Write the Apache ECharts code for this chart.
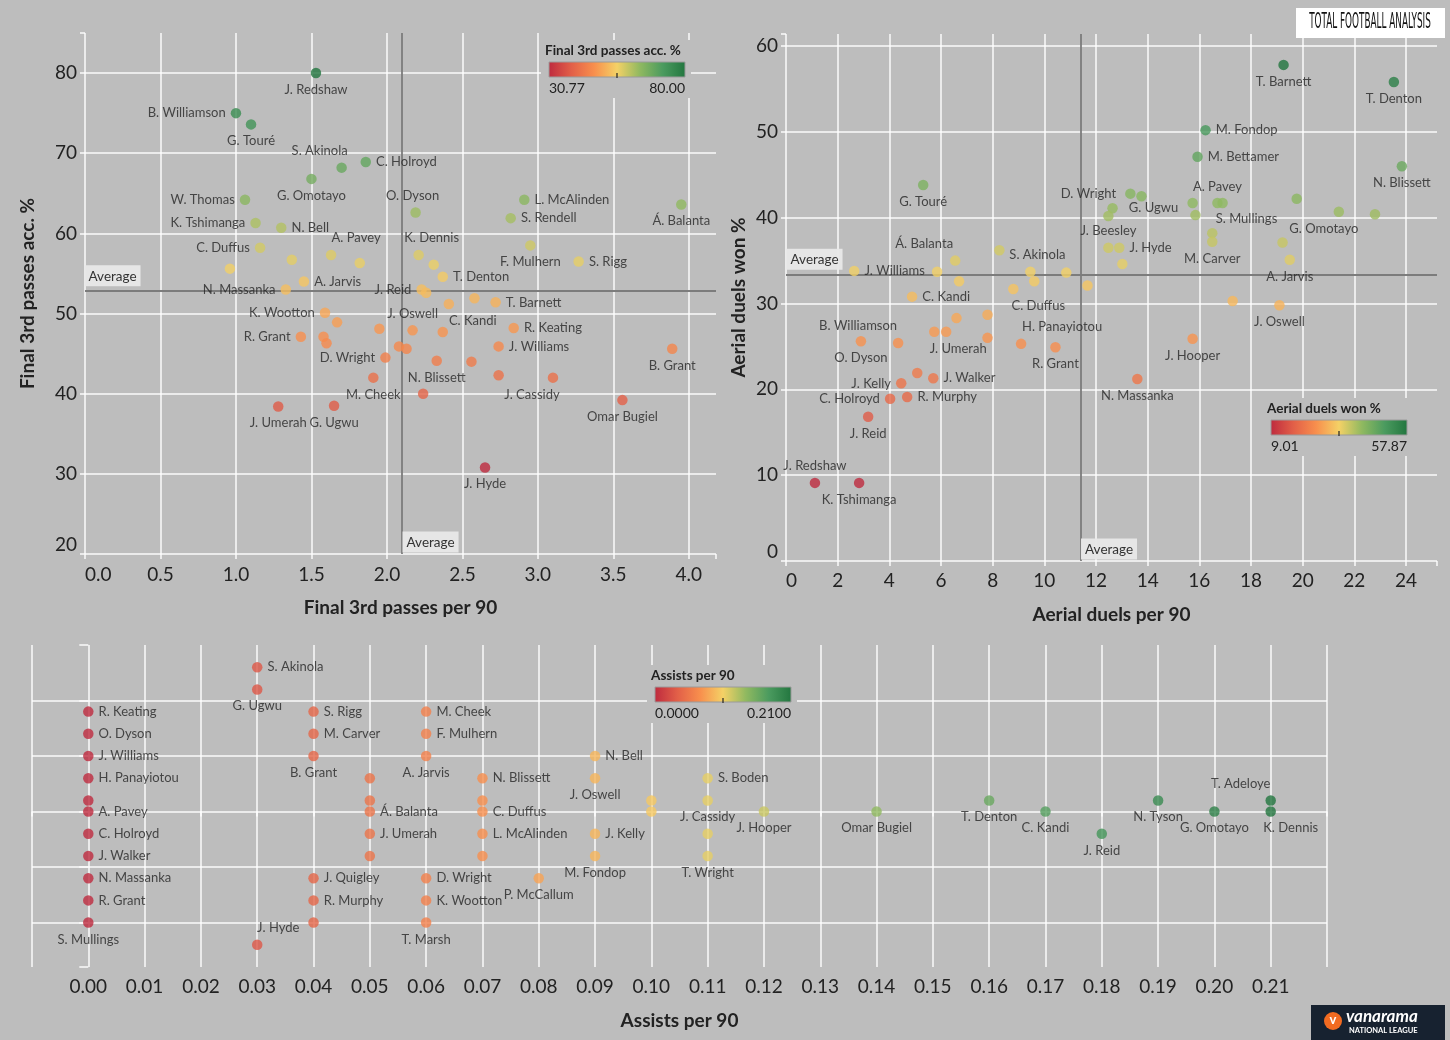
<!DOCTYPE html>
<html><head><meta charset="utf-8">
<script src="https://cdn.jsdelivr.net/npm/echarts@6/dist/echarts.min.js"></script>
<style>html,body{margin:0;padding:0;background:#bdbdbd;}#c{width:1450px;height:1040px;}</style>
</head><body><div id="c"></div>
<script>
// ================= DATA =================
// Chart 1: Final 3rd passes per 90 vs Final 3rd passes accuracy %
const c1Names = ['J. Redshaw','B. Williamson','G. Touré','S. Akinola','C. Holroyd','G. Omotayo','W. Thomas','O. Dyson','L. McAlinden','S. Rendell',
 'Á. Balanta','K. Tshimanga','N. Bell','C. Duffus','A. Pavey','','','','A. Jarvis','N. Massanka',
 'K. Wootton','','R. Grant','','','','J. Oswell','D. Wright','','',
 'M. Cheek','N. Blissett','J. Umerah','G. Ugwu','J. Reid','','T. Denton','K. Dennis','','F. Mulhern',
 'S. Rigg','T. Barnett','C. Kandi','','','R. Keating','J. Williams','','','J. Cassidy',
 '','B. Grant','Omar Bugiel','J. Hyde'];
const c1Passes = [1.53,1.00,1.10,1.70,1.86,1.50,1.06,2.19,2.91,2.82,
 3.95,1.13,1.30,1.16,1.63,1.82,1.37,0.96,1.45,1.33,
 1.59,1.67,1.43,1.58,1.60,1.95,2.17,1.99,2.08,2.13,
 1.91,2.33,1.28,1.65,2.23,2.26,2.37,2.21,2.31,2.95,
 3.27,2.72,2.41,2.58,2.37,2.84,2.74,2.56,2.74,3.10,
 2.24,3.89,3.56,2.65];
const c1Accuracy = [80.0,75.0,73.6,68.2,68.9,66.8,64.2,62.6,64.2,61.9,
 63.6,61.3,60.7,58.2,57.3,56.3,56.7,55.6,54.0,53.0,
 50.1,48.9,47.1,47.1,46.3,48.1,47.9,44.5,45.9,45.6,
 42.0,44.1,38.4,38.5,53.0,52.6,54.6,57.3,56.1,58.5,
 56.5,51.4,51.2,51.9,47.7,48.2,45.9,44.0,42.3,42.0,
 40.0,45.6,39.2,30.8];
const c1AvgX = 2.10, c1AvgY = 52.85;
const c1XRange = [0, 4.18], c1YRange = [20, 85];
const c1XTicks = ['0.0','0.5','1.0','1.5','2.0','2.5','3.0','3.5','4.0'];
const c1YTicks = ['20','30','40','50','60','70','80'];
const c1ColorRange = [30.77, 80.00];

// Chart 2: Aerial duels per 90 vs Aerial duels won %
const c2Names = ['T. Barnett','T. Denton','M. Fondop','M. Bettamer','N. Blissett','G. Touré','D. Wright','','G. Ugwu','',
 '','S. Mullings','A. Pavey','','','G. Omotayo','','','M. Carver','J. Beesley',
 'J. Hyde','','','A. Jarvis','Á. Balanta','','J. Williams','','','S. Akinola',
 '','','','C. Duffus','C. Kandi','','J. Oswell','','','O. Dyson',
 'B. Williamson','','J. Umerah','','H. Panayiotou','R. Grant','J. Hooper','N. Massanka','J. Kelly','',
 'J. Walker','C. Holroyd','R. Murphy','J. Reid','J. Redshaw','K. Tshimanga'];
const c2Duels = [19.26,23.53,16.24,15.93,23.84,5.31,13.33,13.76,12.64,12.48,
 15.74,15.85,16.70,16.90,19.77,21.40,22.80,16.50,16.50,12.48,
 12.90,13.02,19.22,19.50,6.55,8.26,2.64,5.85,6.70,9.46,
 9.61,10.85,11.67,8.80,4.88,17.29,19.10,6.60,7.80,2.90,
 4.34,5.74,6.20,7.80,9.10,10.43,15.74,13.60,4.46,5.08,
 5.70,4.03,4.69,3.18,1.12,2.83];
const c2WonPct = [57.8,55.8,50.2,47.1,46.0,43.8,42.8,42.5,41.1,40.2,
 41.7,40.3,41.7,41.7,42.2,40.7,40.4,38.2,37.2,36.5,
 36.5,34.6,37.1,35.1,35.0,36.2,33.8,33.7,32.6,33.7,
 32.6,33.6,32.1,31.7,30.8,30.3,29.8,28.3,28.7,25.6,
 25.4,26.7,26.7,26.0,25.3,24.9,25.9,21.2,20.7,21.9,
 21.3,18.9,19.1,16.8,9.1,9.1];
const c2AvgX = 11.4, c2AvgY = 33.3;
const c2XRange = [0, 25.2], c2YRange = [0, 61.4];
const c2XTicks = ['0','2','4','6','8','10','12','14','16','18','20','22','24'];
const c2YTicks = ['0','10','20','30','40','50','60'];
const c2ColorRange = [9.01, 57.87];

// Chart 3: Assists per 90 (with vertical jitter)
const c3Names = ['R. Keating','O. Dyson','J. Williams','H. Panayiotou','','A. Pavey','C. Holroyd','J. Walker','N. Massanka','R. Grant','S. Mullings',
 'S. Akinola','G. Ugwu','J. Hyde',
 'S. Rigg','M. Carver','B. Grant','J. Quigley','R. Murphy','',
 '','','Á. Balanta','J. Umerah','',
 'M. Cheek','F. Mulhern','A. Jarvis','D. Wright','K. Wootton','T. Marsh',
 'N. Blissett','','C. Duffus','L. McAlinden','',
 'P. McCallum',
 'N. Bell','J. Oswell','J. Kelly','M. Fondop',
 '','',
 'S. Boden','J. Cassidy','','T. Wright',
 'J. Hooper','Omar Bugiel','T. Denton','C. Kandi','J. Reid','N. Tyson','G. Omotayo','T. Adeloye','K. Dennis'];
const c3Assists = [0,0,0,0,0,0,0,0,0,0,0,
 0.03,0.03,0.03,
 0.04,0.04,0.04,0.04,0.04,0.04,
 0.05,0.05,0.05,0.05,0.05,
 0.06,0.06,0.06,0.06,0.06,0.06,
 0.07,0.07,0.07,0.07,0.07,
 0.08,
 0.09,0.09,0.09,0.09,
 0.10,0.10,
 0.11,0.11,0.11,0.11,
 0.12,0.14,0.16,0.17,0.18,0.19,0.20,0.21,0.21];
const c3Jitter = [1.8,1.4,1.0,0.6,0.2,0,-0.4,-0.8,-1.2,-1.6,-2.0,
 2.6,2.2,-2.4,
 1.8,1.4,1.0,-1.2,-1.6,-2.0,
 0.6,0.2,0,-0.4,-0.8,
 1.8,1.4,1.0,-1.2,-1.6,-2.0,
 0.6,0.2,0,-0.4,-0.8,
 -1.2,
 1.0,0.6,-0.4,-0.8,
 0.2,0,
 0.6,0.2,-0.4,-0.8,
 0,0,0.2,0,-0.4,0.2,0,0.2,0];
const c3XRange = [-0.01, 0.22], c3YRange = [-2.8, 3];
const c3XTicks = ['0.00','0.01','0.02','0.03','0.04','0.05','0.06','0.07','0.08','0.09','0.10','0.11','0.12','0.13','0.14','0.15','0.16','0.17','0.18','0.19','0.20','0.21'];
const c3ColorRange = [0, 0.21];

// ================= STYLE CONFIG =================
const FONT = 'Lato, "Noto Sans", sans-serif';
const BG = '#bdbdbd';
const palette = ['#be2a3e','#e25f48','#f88f4d','#f4d166','#90b960','#4b9b5f','#22763f'];
const GRID_COLOR = 'rgba(255,255,255,0.92)';

// label placement: [position, dx, dy]
const c1Place = {'J. Redshaw':['bottom'],'B. Williamson':['left'],'G. Touré':['bottom'],'S. Akinola':['top',-22,0],'C. Holroyd':['right'],
 'G. Omotayo':['bottom'],'W. Thomas':['left'],'O. Dyson':['top',-3,0],'L. McAlinden':['right'],'S. Rendell':['right'],'Á. Balanta':['bottom'],
 'K. Tshimanga':['left'],'N. Bell':['right'],'C. Duffus':['left'],'A. Pavey':['top',25,0],'A. Jarvis':['right'],'N. Massanka':['left'],
 'K. Wootton':['left'],'R. Grant':['left'],'J. Oswell':['top'],'D. Wright':['left'],'M. Cheek':['bottom'],'N. Blissett':['bottom'],
 'J. Umerah':['bottom'],'G. Ugwu':['bottom'],'J. Reid':['left'],'T. Denton':['right'],'K. Dennis':['top',13,0],'F. Mulhern':['bottom'],
 'S. Rigg':['right'],'T. Barnett':['right'],'C. Kandi':['bottom',24,0],'R. Keating':['right'],'J. Williams':['right'],
 'J. Cassidy':['bottom',-21,0],'B. Grant':['bottom'],'Omar Bugiel':['bottom'],'J. Hyde':['bottom']};
const c2Place = {'T. Barnett':['bottom'],'T. Denton':['bottom'],'M. Fondop':['right'],'M. Bettamer':['right'],'N. Blissett':['bottom'],
 'G. Touré':['bottom'],'D. Wright':['left',-4,0],'G. Ugwu':['right',6,0],'S. Mullings':['right',10,4],'A. Pavey':['top'],
 'G. Omotayo':['bottom',-15,0],'M. Carver':['bottom'],'J. Beesley':['top'],'J. Hyde':['right'],'A. Jarvis':['bottom'],
 'Á. Balanta':['top',-31,0],'J. Williams':['right'],'S. Akinola':['top',7,0],'C. Duffus':['bottom',25,0],'C. Kandi':['right'],
 'J. Oswell':['bottom'],'O. Dyson':['bottom'],'B. Williamson':['top',-40,0],'J. Umerah':['bottom',12,0],'H. Panayiotou':['top',41,0],
 'R. Grant':['bottom'],'J. Hooper':['bottom'],'N. Massanka':['bottom'],'J. Kelly':['left'],'J. Walker':['right'],'C. Holroyd':['left'],
 'R. Murphy':['right'],'J. Reid':['bottom'],'J. Redshaw':['top'],'K. Tshimanga':['bottom']};
const c3BottomNames = ['S. Mullings','G. Ugwu','B. Grant','A. Jarvis','T. Marsh','P. McCallum','J. Oswell','M. Fondop','J. Cassidy',
 'T. Wright','J. Hooper','Omar Bugiel','T. Denton','C. Kandi','J. Reid','N. Tyson','G. Omotayo'];
const c3Place = {'J. Hyde':['top',21,0],'T. Adeloye':['top',-30,0],'K. Dennis':['bottom',20,0]};
c3BottomNames.forEach(n => { c3Place[n] = ['bottom']; });

function makeItems(names, xs, ys, place, defPos) {
  return names.map((n, i) => {
    const item = { name: n, value: [xs[i], ys[i]] };
    const p = place[n] || (n && defPos ? [defPos] : null);
    if (n && p) item.label = { show: true, position: p[0], offset: [p[1] || 0, p[2] || 0] };
    return item;
  });
}

function tickFmt(list, digits) {
  return v => { const s = (Math.abs(v) < 1e-9 ? 0 : v).toFixed(digits); return list.includes(s) ? s : ''; };
}

function axis(extra) {
  const base = {
    nameLocation: 'middle',
    nameTextStyle: { fontSize: 19, fontWeight: 'bold', color: '#222', fontFamily: FONT },
    axisLine: { show: false },
    axisTick: { show: true, length: 5, lineStyle: { color: GRID_COLOR, width: 1.5 } },
    splitLine: { show: true, showMinLine: true, showMaxLine: false, lineStyle: { color: GRID_COLOR, width: 1.5 } },
    axisLabel: { fontSize: 19, color: '#222', fontFamily: FONT }
  };
  const out = Object.assign({}, base, extra);
  if (extra.axisLabel) out.axisLabel = Object.assign({}, base.axisLabel, extra.axisLabel);
  if (extra.splitLine) out.splitLine = Object.assign({}, base.splitLine, extra.splitLine);
  return out;
}

const avgLine = (ax, ay) => ({
  symbol: 'none', silent: true, z: 1, animation: false,
  lineStyle: { color: '#7c7c7c', width: 1.8, type: 'solid' },
  label: { show: false },
  data: [{ xAxis: ax }, { yAxis: ay }]
});
const avgLabels = (pts) => ({
  symbol: 'circle', symbolSize: 1, silent: true, animation: false,
  itemStyle: { color: 'rgba(0,0,0,0)' },
  label: { show: true, formatter: 'Average', color: '#333', fontSize: 13.5, fontFamily: FONT,
           backgroundColor: 'rgba(232,232,232,0.95)', padding: [4, 4, 3, 4] },
  data: pts
});

const seriesLabel = { show: false, formatter: '{b}', fontSize: 13, color: '#262626', fontFamily: FONT, distance: 5 };

// ================= LEGENDS / LOGOS (graphic) =================
function legend(x, y, title, lo, hi) {
  const w = 136, h = 15;
  return [
    { type: 'rect', z: 100, shape: { x: x - 8, y: y - 22, width: w + 14, height: 58 }, style: { fill: BG } },
    { type: 'text', z: 101, x: x - 4, y: y - 11, style: { text: title, font: 'bold 13.5px ' + FONT, fill: '#222', verticalAlign: 'middle', align: 'left' } },
    { type: 'rect', z: 101, x: x, y: y, shape: { x: 0, y: 0, width: w, height: h },
      style: { fill: new echarts.graphic.LinearGradient(0, 0, 1, 0, palette.map((c, i) => ({ offset: i / (palette.length - 1), color: c }))),
               stroke: '#9a9a9a', lineWidth: 1 } },
    { type: 'line', z: 102, shape: { x1: x + w / 2, y1: y + h - 4, x2: x + w / 2, y2: y + h + 1 }, style: { stroke: '#222', lineWidth: 1.2 } },
    { type: 'text', z: 101, x: x, y: y + h + 11, style: { text: lo, font: '14px ' + FONT, fill: '#222', align: 'left', verticalAlign: 'middle' } },
    { type: 'text', z: 101, x: x + w, y: y + h + 11, style: { text: hi, font: '14px ' + FONT, fill: '#222', align: 'right', verticalAlign: 'middle' } }
  ];
}

const graphics = [].concat(
  legend(549, 62, 'Final 3rd passes acc. %', c1ColorRange[0].toFixed(2), c1ColorRange[1].toFixed(2)),
  legend(1271, 420, 'Aerial duels won %', c2ColorRange[0].toFixed(2), c2ColorRange[1].toFixed(2)),
  legend(655, 687, 'Assists per 90', c3ColorRange[0].toFixed(4), c3ColorRange[1].toFixed(4)),
  [
    { type: 'rect', z: 100, shape: { x: 1296, y: 8, width: 149, height: 30 }, style: { fill: '#ffffff' } },
    { type: 'text', z: 101, x: 1370, y: 23, scaleX: 0.82, scaleY: 1.75,
      style: { text: 'TOTAL FOOTBALL ANALYSIS', font: '12px "DejaVu Sans Condensed", "Liberation Sans Narrow", sans-serif', fill: '#111', align: 'center', verticalAlign: 'middle' } },
    { type: 'rect', z: 100, shape: { x: 1311, y: 1005, width: 134, height: 35 }, style: { fill: '#172230' } },
    { type: 'circle', z: 101, shape: { cx: 1333, cy: 1021, r: 9 }, style: { fill: '#f26b21' } },
    { type: 'text', z: 102, x: 1333, y: 1020, style: { text: 'v', font: 'bold 13px ' + FONT, fill: '#fff', align: 'center', verticalAlign: 'middle' } },
    { type: 'text', z: 101, x: 1346, y: 1017, style: { text: 'vanarama', font: 'bold italic 17px ' + FONT, fill: '#fff', align: 'left', verticalAlign: 'middle' } },
    { type: 'text', z: 101, x: 1349, y: 1031, style: { text: 'NATIONAL LEAGUE', font: 'bold 7.5px ' + FONT, fill: '#fff', align: 'left', verticalAlign: 'middle' } }
  ]
);

// ================= OPTION =================
const chart = echarts.init(document.getElementById('c'), null, { renderer: 'canvas' });
const option = {
  backgroundColor: BG,
  animation: false,
  textStyle: { fontFamily: FONT },
  grid: [
    { left: 85, top: 33, width: 631, height: 521 },
    { left: 786, top: 34, width: 651, height: 527 },
    { left: 32, top: 645, width: 1295, height: 322 }
  ],
  xAxis: [
    axis({ gridIndex: 0, type: 'value', min: c1XRange[0], max: c1XRange[1], interval: 0.5, name: 'Final 3rd passes per 90', nameGap: 44,
           axisLabel: { margin: 11, formatter: tickFmt(c1XTicks, 1), alignMinLabel: 'left' } }),
    axis({ gridIndex: 1, type: 'value', min: c2XRange[0], max: c2XRange[1], interval: 2, name: 'Aerial duels per 90', nameGap: 44,
           axisLabel: { margin: 10, formatter: tickFmt(c2XTicks, 0), alignMinLabel: 'left' } }),
    axis({ gridIndex: 2, type: 'value', min: c3XRange[0], max: c3XRange[1], interval: 0.01, name: 'Assists per 90', nameGap: 44,
           splitLine: { showMaxLine: true }, axisLabel: { margin: 10, formatter: tickFmt(c3XTicks, 2) } })
  ],
  yAxis: [
    axis({ gridIndex: 0, type: 'value', min: c1YRange[0], max: c1YRange[1], interval: 10, name: 'Final 3rd passes acc. %', nameGap: 48,
           axisLabel: { margin: 8, formatter: tickFmt(c1YTicks, 0), verticalAlignMinLabel: 'bottom' } }),
    axis({ gridIndex: 1, type: 'value', min: c2YRange[0], max: c2YRange[1], interval: 10, name: 'Aerial duels won %', nameGap: 38,
           axisLabel: { margin: 8, formatter: tickFmt(c2YTicks, 0), verticalAlignMinLabel: 'bottom' } }),
    axis({ gridIndex: 2, type: 'value', min: c3YRange[0], max: c3YRange[1], splitNumber: 5,
           axisTick: { show: true, length: 9, lineStyle: { color: GRID_COLOR, width: 1.5 } },
           splitLine: { showMinLine: false, showMaxLine: false }, axisLabel: { show: false } })
  ],
  visualMap: [
    { type: 'continuous', show: false, seriesIndex: 0, dimension: 1, min: c1ColorRange[0], max: c1ColorRange[1], inRange: { color: palette } },
    { type: 'continuous', show: false, seriesIndex: 1, dimension: 1, min: c2ColorRange[0], max: c2ColorRange[1], inRange: { color: palette } },
    { type: 'continuous', show: false, seriesIndex: 2, dimension: 0, min: c3ColorRange[0], max: c3ColorRange[1], inRange: { color: palette } }
  ],
  series: [
    { type: 'scatter', xAxisIndex: 0, yAxisIndex: 0, symbolSize: 10.5, z: 3, label: seriesLabel,
      data: makeItems(c1Names, c1Passes, c1Accuracy, c1Place),
      markLine: avgLine(c1AvgX, c1AvgY),
      markPoint: avgLabels([
        { coord: [c1XRange[0], c1AvgY], label: { position: [0, -25] } },
        { coord: [c1AvgX, c1YRange[0]], label: { position: [1, -22] } }
      ]) },
    { type: 'scatter', xAxisIndex: 1, yAxisIndex: 1, symbolSize: 10.5, z: 3, label: seriesLabel,
      data: makeItems(c2Names, c2Duels, c2WonPct, c2Place),
      markLine: avgLine(c2AvgX, c2AvgY),
      markPoint: avgLabels([
        { coord: [c2XRange[0], c2AvgY], label: { position: [1, -26] } },
        { coord: [c2AvgX, c2YRange[0]], label: { position: [1, -22] } }
      ]) },
    { type: 'scatter', xAxisIndex: 2, yAxisIndex: 2, symbolSize: 10.5, z: 3, label: seriesLabel,
      data: makeItems(c3Names, c3Assists, c3Jitter, c3Place, 'right') }
  ],
  graphic: graphics
};
chart.setOption(option);
</script>
</body></html>
